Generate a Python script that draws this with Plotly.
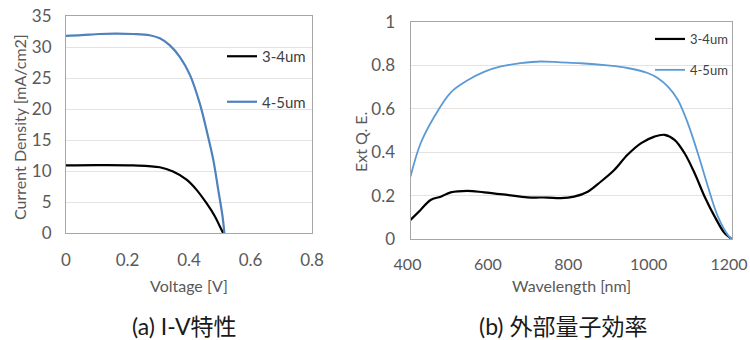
import plotly.graph_objects as go

# ---- (a) I-V data ----
iv_v_45 = [0, 0.05, 0.109, 0.16, 0.218, 0.272, 0.305, 0.337, 0.370, 0.403, 0.435, 0.457, 0.479, 0.495, 0.509, 0.515]
iv_j_45 = [31.8, 31.9, 32.1, 32.15, 32.1, 31.9, 31.4, 30.3, 28.4, 25.5, 20.9, 16.6, 11.8, 7.0, 2.7, 0.0]
iv_v_34 = [0, 0.1, 0.218, 0.305, 0.348, 0.392, 0.424, 0.457, 0.484, 0.500, 0.511]
iv_j_34 = [10.9, 10.95, 10.9, 10.6, 9.9, 8.6, 7.0, 4.8, 2.7, 1.1, 0.0]

# ---- (b) EQE data ----
wl_45 = [400, 425, 458, 500, 541, 583, 625, 674, 724, 774, 824, 890, 940, 990, 1015, 1040, 1065, 1090, 1115, 1140, 1165, 1190, 1200]
eqe_45 = [0.288, 0.44, 0.56, 0.675, 0.73, 0.77, 0.795, 0.81, 0.818, 0.814, 0.81, 0.80, 0.788, 0.765, 0.742, 0.703, 0.642, 0.534, 0.395, 0.242, 0.103, 0.018, 0.0]
wl_34 = [400, 425, 450, 475, 500, 541, 583, 641, 691, 741, 774, 807, 841, 874, 907, 940, 974, 1007, 1032, 1057, 1082, 1107, 1132, 1157, 1182, 1200]
eqe_34 = [0.088, 0.134, 0.18, 0.195, 0.215, 0.222, 0.215, 0.203, 0.192, 0.191, 0.188, 0.195, 0.218, 0.265, 0.318, 0.388, 0.442, 0.472, 0.48, 0.457, 0.395, 0.303, 0.195, 0.103, 0.026, 0.0]

series_names = ["3-4um", "4-5um"]
iv_xticks = [0, 0.2, 0.4, 0.6, 0.8]
iv_xlabels = ["0", "0.2", "0.4", "0.6", "0.8"]
iv_yticks = [0, 5, 10, 15, 20, 25, 30, 35]
eqe_xticks = [400, 600, 800, 1000, 1200]
eqe_yticks = [0, 0.2, 0.4, 0.6, 0.8, 1]
eqe_ylabels = ["0", "0.2", "0.4", "0.6", "0.8", "1"]

FONT = "Lato, 'Noto Sans CJK JP', sans-serif"
GRAY = "#595959"
BLACK = "#000000"
BLUE_L = "#4f81bd"
BLUE_R = "#5b9bd5"

W, H = 750, 340
def px(x): return x / W
def py(y): return 1 - y / H

fig = go.Figure()
fig.add_trace(go.Scatter(x=iv_v_34, y=iv_j_34, mode="lines", name=series_names[0],
                         line=dict(color=BLACK, width=2.2, shape="spline"),
                         xaxis="x", yaxis="y", legend="legend", legendgroup="a1"))
fig.add_trace(go.Scatter(x=iv_v_45, y=iv_j_45, mode="lines", name=series_names[1],
                         line=dict(color=BLUE_L, width=2.2, shape="spline"),
                         xaxis="x", yaxis="y", legend="legend", legendgroup="a2"))
fig.add_trace(go.Scatter(x=wl_34, y=eqe_34, mode="lines", name=series_names[0],
                         line=dict(color=BLACK, width=2.2, shape="spline"),
                         xaxis="x2", yaxis="y2", legend="legend2", legendgroup="b1"))
fig.add_trace(go.Scatter(x=wl_45, y=eqe_45, mode="lines", name=series_names[1],
                         line=dict(color=BLUE_R, width=1.8, shape="spline"),
                         xaxis="x2", yaxis="y2", legend="legend2", legendgroup="b2"))

axcommon = dict(showline=True, mirror=True, linecolor="#a6a6a6", linewidth=1,
                zeroline=False, ticks="", fixedrange=True, automargin=False,
                ticklabeloverflow="allow")
tf17 = dict(family=FONT, size=17, color=GRAY)
tf16 = dict(family=FONT, size=16, color=GRAY)

fig.update_layout(
    width=W, height=H, margin=dict(l=0, r=0, t=0, b=0, autoexpand=False),
    paper_bgcolor="white", plot_bgcolor="white",
    font=dict(family=FONT, color=GRAY),
    xaxis=dict(domain=[px(66), px(312)], anchor="y", range=[0, 0.8],
               tickvals=iv_xticks, ticktext=iv_xlabels, showgrid=False,
               ticklabelstandoff=12, tickfont=tf17, **axcommon),
    yaxis=dict(domain=[py(233), py(16)], anchor="x", range=[0, 35],
               tickvals=iv_yticks, showgrid=True, gridcolor="#e3e3e3",
               ticklabelstandoff=10, tickfont=tf17, **axcommon),
    xaxis2=dict(domain=[px(410.5), px(732)], anchor="y2", range=[400, 1200],
                tickvals=eqe_xticks, showgrid=False, ticklabelstandoff=11,
                ticklabelshift=-3, tickfont=tf16, **axcommon),
    yaxis2=dict(domain=[py(239), py(22)], anchor="x2", range=[0, 1],
                tickvals=eqe_yticks, ticktext=eqe_ylabels, showgrid=True,
                gridcolor="#e3e3e3", ticklabelstandoff=11, tickfont=tf17, **axcommon),
    legend=dict(x=px(222), y=py(40), xanchor="left", yanchor="top",
                bgcolor="rgba(0,0,0,0)", traceorder="grouped", tracegroupgap=23,
                itemwidth=30, font=dict(family=FONT, size=15, color="#404040")),
    legend2=dict(x=px(650), y=py(24), xanchor="left", yanchor="top",
                 bgcolor="rgba(0,0,0,0)", traceorder="grouped", tracegroupgap=11,
                 itemwidth=30, font=dict(family=FONT, size=13, color="#404040")),
)

ann = [
    dict(text="Voltage [V]", x=px(189), y=py(285), font=dict(size=16, color=GRAY)),
    dict(text="Wavelength [nm]", x=px(571), y=py(285), font=dict(size=16, color=GRAY)),
    dict(text="Current Density [mA/cm2]", x=px(19), y=py(127), textangle=-90,
         font=dict(size=16, color=GRAY)),
    dict(text="Ext Q. E.", x=px(360), y=py(142), textangle=-90,
         font=dict(size=16, color=GRAY)),
    dict(text="(a) I-V特性", x=px(184), y=py(326), font=dict(size=23, color="#1a1a1a")),
    dict(text="(b) 外部量子効率", x=px(563), y=py(326), font=dict(size=23, color="#1a1a1a")),
]
for a in ann:
    a.update(xref="paper", yref="paper", showarrow=False, xanchor="center", yanchor="middle")
    a["font"]["family"] = FONT
fig.update_layout(annotations=ann)

fig.write_html("out.html", config={"displayModeBar": False},
               post_script="document.body.style.margin='0px';document.body.style.overflow='hidden';")
